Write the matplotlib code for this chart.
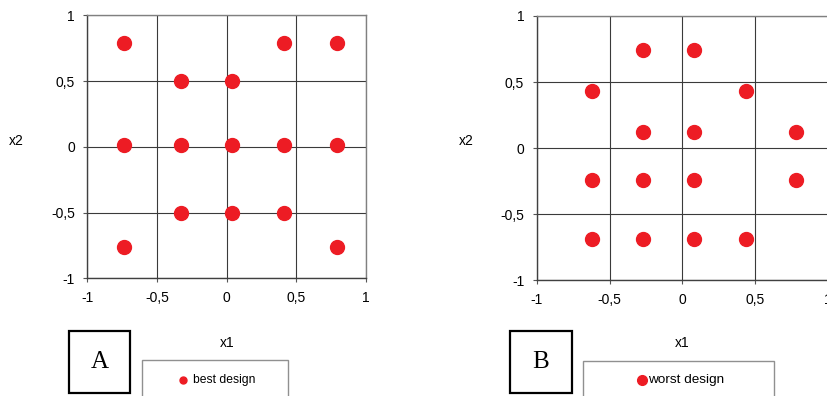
import matplotlib.pyplot as plt
from matplotlib.patches import Rectangle
from matplotlib.lines import Line2D

plt.rcParams['font.family'] = ['Liberation Sans', 'DejaVu Sans']

# best design (A)
best_x1 = [-0.74, 0.41, 0.79, -0.33, 0.04, -0.74, -0.33, 0.04, 0.41, 0.79, -0.33, 0.04, 0.41, -0.74, 0.79]
best_x2 = [0.79, 0.79, 0.79, 0.50, 0.50, 0.01, 0.01, 0.01, 0.01, 0.01, -0.50, -0.50, -0.50, -0.76, -0.76]

# worst design (B)
worst_x1 = [-0.27, 0.08, -0.62, 0.44, -0.27, 0.08, 0.78, -0.62, -0.27, 0.08, 0.78, -0.62, -0.27, 0.08, 0.44]
worst_x2 = [0.74, 0.74, 0.43, 0.43, 0.12, 0.12, 0.12, -0.24, -0.24, -0.24, -0.24, -0.69, -0.69, -0.69, -0.69]

ticks = [-1, -0.5, 0, 0.5, 1]
tick_labels = ['-1', '-0,5', '0', '0,5', '1']

RED = '#ed1c24'
W, H = 827, 396
fig = plt.figure(figsize=(W / 100, H / 100), dpi=100)


def px(x0, y0, x1, y1):
    # pixel box -> figure fraction [left, bottom, width, height]
    return [x0 / W, 1 - y1 / H, (x1 - x0) / W, (y1 - y0) / H]


def panel(rect, xs, ys, xlab_x, ylab_x, letter, letter_box, leg_box,
          leg_marker, leg_text_x, leg_text, msize, lsize):
    ax = fig.add_axes(px(*rect))
    ax.plot(xs, ys, 'o', color=RED, markersize=10, zorder=3)
    ax.set_xlim(-1, 1)
    ax.set_ylim(-1, 1)
    ax.set_xticks(ticks)
    ax.set_xticklabels(tick_labels)
    ax.set_yticks(ticks)
    ax.set_yticklabels(tick_labels)
    ax.grid(True, color='#3a3a3a', linewidth=0.8)
    ax.set_axisbelow(True)
    for s in ax.spines.values():
        s.set_color('#808080')
        s.set_linewidth(1.0)
    ax.spines['left'].set_color('#404040')
    ax.spines['bottom'].set_color('#404040')
    ax.tick_params(direction='out', length=3, width=0.8, color='#555555',
                   labelsize=10, pad=6)

    fig.text(ylab_x / W, 1 - 141 / H, 'x2', fontsize=10, ha='center', va='center')
    fig.text(xlab_x / W, 1 - 343 / H, 'x1', fontsize=10, ha='center', va='center')

    # letter box
    x0, y0, x1, y1 = letter_box
    fig.add_artist(Rectangle((x0 / W, 1 - y1 / H), (x1 - x0) / W, (y1 - y0) / H,
                             transform=fig.transFigure, fill=False,
                             edgecolor='black', linewidth=1.6))
    fig.text((x0 + x1) / 2 / W, 1 - (y0 + y1) / 2 / H, letter,
             family='Liberation Serif', fontsize=18, ha='center', va='center')

    # legend box running off the bottom
    x0, y0, x1, y1 = leg_box
    fig.add_artist(Rectangle((x0 / W, 1 - y1 / H), (x1 - x0) / W, (y1 - y0) / H,
                             transform=fig.transFigure, fill=False,
                             edgecolor='#909090', linewidth=1.0, clip_on=False))
    mx, my = leg_marker
    fig.add_artist(Line2D([mx / W], [1 - my / H], transform=fig.transFigure,
                          marker='o', color=RED, markersize=msize, linestyle='none'))
    fig.text(leg_text_x / W, 1 - my / H, leg_text, fontsize=lsize,
             ha='left', va='center')
    return ax


panel((87.3, 15.3, 366, 278.3), best_x1, best_x2, 226.7, 16.3, 'A',
      (69, 331.3, 130.3, 392.7), (141.7, 360, 287.7, 400), (183.3, 379.5),
      193.3, 'best design', 5, 8.7)
panel((536.7, 16, 828, 280.3), worst_x1, worst_x2, 681.7, 466, 'B',
      (510, 331.3, 572, 393), (583.3, 360.7, 774, 400), (641.7, 380),
      648.3, 'worst design', 7, 9.7)

fig.savefig('out.png', dpi=100)
